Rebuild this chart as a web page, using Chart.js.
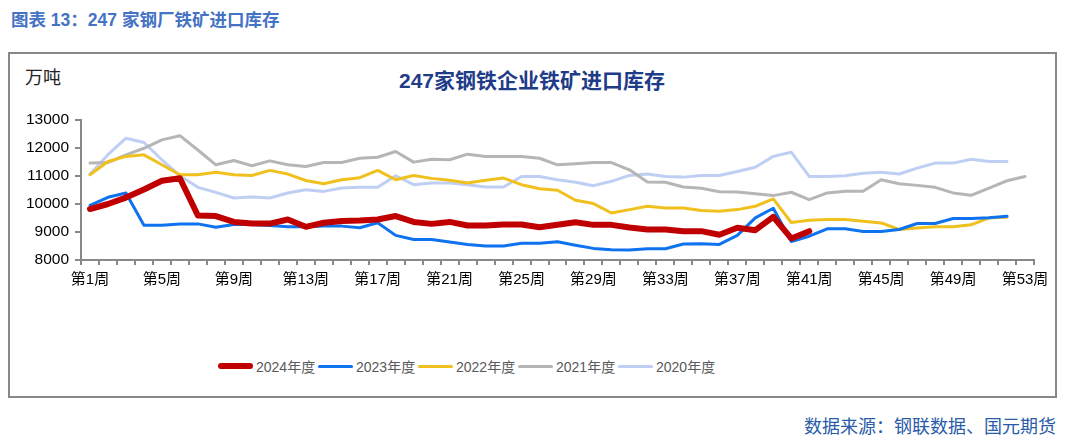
<!DOCTYPE html>
<html>
<head>
<meta charset="utf-8">
<script src="https://cdn.jsdelivr.net/npm/chart.js@4"></script>
<style>
  body { margin: 0; background: #fff; }
  #wrap { position: relative; width: 1067px; height: 447px; overflow: hidden; font-family: 'Liberation Sans', 'Noto Sans CJK SC', sans-serif; }
  .txt { position: absolute; white-space: nowrap; }
  #frame { position: absolute; left: 8px; top: 52px; width: 1045px; height: 342px; border: 2px solid #888; }
  #legend { position: absolute; top: 357px; left: 0; height: 18px; }
  .item { position: absolute; top: 0; height: 18px; display: flex; align-items: center; font-size: 14px; color: #595959; white-space: nowrap; }
  .swatch { width: 35px; margin-right: 3px; border-radius: 3px; flex: none; }
  canvas { position: absolute; left: 0; top: 0; }
</style>
</head>
<body>
<div id="wrap">
  <div id="frame"></div>
  <div class="txt" style="left:11px; top:8px; line-height:24px; font-size:17.5px; font-weight:bold; color:#4472c4;">图表 13：247 家钢厂铁矿进口库存</div>
  <div class="txt" style="left:0; width:1064px; text-align:center; top:68px; line-height:26px; font-size:21px; font-weight:bold; color:#1f3c88;">247家钢铁企业铁矿进口库存</div>
  <div class="txt" style="left:25px; top:66px; line-height:24px; font-size:18px; color:#222;">万吨</div>
  <div class="txt" style="right:11px; top:415px; line-height:24px; font-size:18px; color:#2a5caa;">数据来源：钢联数据、国元期货</div>
  <div id="legend"></div>
  <canvas id="chart" width="1067" height="447"></canvas>
</div>
<script>
// weeks 第1周 .. 第53周
const weeks = [];
for (let i = 1; i <= 53; i++) weeks.push('第' + i + '周');

// inventory, 万吨
const y2024 = [9820, 10000, 10230, 10520, 10830, 10920, 9590, 9570, 9360, 9300,
  9300, 9445, 9185, 9330, 9390, 9410, 9445, 9570, 9360, 9290,
  9360, 9230, 9230, 9270, 9270, 9170, 9260, 9350, 9255, 9255,
  9160, 9090, 9090, 9030, 9030, 8900, 9150, 9065, 9540, 8770,
  9030];
const y2023 = [9955, 10240, 10395, 9244, 9244, 9290, 9290, 9170, 9270, 9270,
  9230, 9185, 9185, 9210, 9210, 9150, 9330, 8880, 8735, 8735,
  8640, 8555, 8500, 8500, 8595, 8595, 8650, 8530, 8415, 8365,
  8355, 8400, 8400, 8570, 8580, 8555, 8880, 9505, 9850, 8660,
  8850, 9115, 9115, 9020, 9020, 9090, 9305, 9305, 9480, 9480,
  9505, 9565];
const y2022 = [11045, 11520, 11700, 11755, 11400, 11045, 11045, 11130, 11045, 11020,
  11200, 11070, 10840, 10725, 10865, 10940, 11200, 10865, 11020, 10915,
  10845, 10750, 10845, 10925, 10690, 10545, 10490, 10135, 10015, 9680,
  9800, 9920, 9860, 9860, 9765, 9740, 9800, 9920, 10180, 9340,
  9420, 9445, 9445, 9385, 9325, 9090, 9140, 9185, 9185, 9255,
  9505, 9530];
const y2021 = [11460, 11480, 11755, 11990, 12290, 12440, 11930, 11400, 11555, 11365,
  11540, 11400, 11340, 11480, 11480, 11635, 11670, 11875, 11495, 11600,
  11580, 11780, 11700, 11700, 11700, 11635, 11400, 11435, 11480, 11480,
  11220, 10785, 10775, 10605, 10560, 10440, 10430, 10370, 10300, 10420,
  10155, 10395, 10455, 10455, 10865, 10725, 10665, 10595, 10395, 10310,
  10570, 10830, 10985];
const y2020 = [11070, 11760, 12350, 12195, 11580, 11010, 10595, 10415, 10215, 10250,
  10215, 10395, 10510, 10450, 10570, 10595, 10595, 11010, 10690, 10750,
  10750, 10690, 10605, 10605, 10985, 10985, 10865, 10775, 10655, 10810,
  11020, 11070, 10985, 10960, 11020, 11020, 11160, 11315, 11700, 11850,
  10985, 10985, 11010, 11100, 11130, 11070, 11280, 11460, 11460, 11600,
  11515, 11515];

const seriesNames = ['2024年度', '2023年度', '2022年度', '2021年度', '2020年度'];
const seriesData = [y2024, y2023, y2022, y2021, y2020];
const colors = ['#c00000', '#0f72ee', '#f0c01e', '#b6b6b6', '#bfcff3'];
const widths = [6, 3, 3, 3, 3];

const datasets = seriesNames.map((name, k) => ({
  label: name,
  data: seriesData[k],
  borderColor: colors[k],
  backgroundColor: colors[k],
  borderWidth: widths[k],
  borderCapStyle: 'round',
  borderJoinStyle: 'round',
  pointRadius: 0,
  tension: 0,
  fill: false
}));

// html legend
const legend = document.getElementById('legend');
seriesNames.forEach((name, k) => {
  const it = document.createElement('div');
  it.className = 'item';
  it.style.left = (218 + 100 * k) + 'px';
  it.innerHTML = '<div class="swatch" style="height:' + (k === 0 ? 6 : 3) + 'px;background:' + colors[k] + '"></div>' + name;
  legend.appendChild(it);
});

const axisColor = '#888';
new Chart(document.getElementById('chart').getContext('2d'), {
  type: 'line',
  data: { labels: weeks, datasets: datasets },
  options: {
    responsive: false,
    animation: false,
    layout: { padding: { left: 0, top: 120, right: 33, bottom: 147 } },
    plugins: { legend: { display: false }, tooltip: { enabled: false } },
    scales: {
      x: {
        offset: true,
        grid: { offset: true, drawOnChartArea: false, color: axisColor, lineWidth: 2, tickLength: 5 },
        border: { color: axisColor, width: 2 },
        ticks: {
          autoSkip: false,
          maxRotation: 0,
          padding: 6,
          color: '#000',
          font: { family: "'Liberation Sans', 'Noto Sans CJK SC'", size: 15 },
          callback: function (v, i) { return i % 4 === 0 ? this.getLabelForValue(v) : ''; }
        },
        afterFit: s => { s.height = 40; }
      },
      y: {
        min: 8000,
        max: 13000,
        grid: { drawOnChartArea: false, color: axisColor, lineWidth: 2, tickLength: 6 },
        border: { color: axisColor, width: 2 },
        ticks: {
          stepSize: 1000,
          padding: 6,
          color: '#000',
          font: { family: "'Liberation Sans'", size: 15.5 },
          callback: v => String(v)
        },
        afterFit: s => { s.width = 81; }
      }
    }
  }
});
</script>
</body>
</html>
